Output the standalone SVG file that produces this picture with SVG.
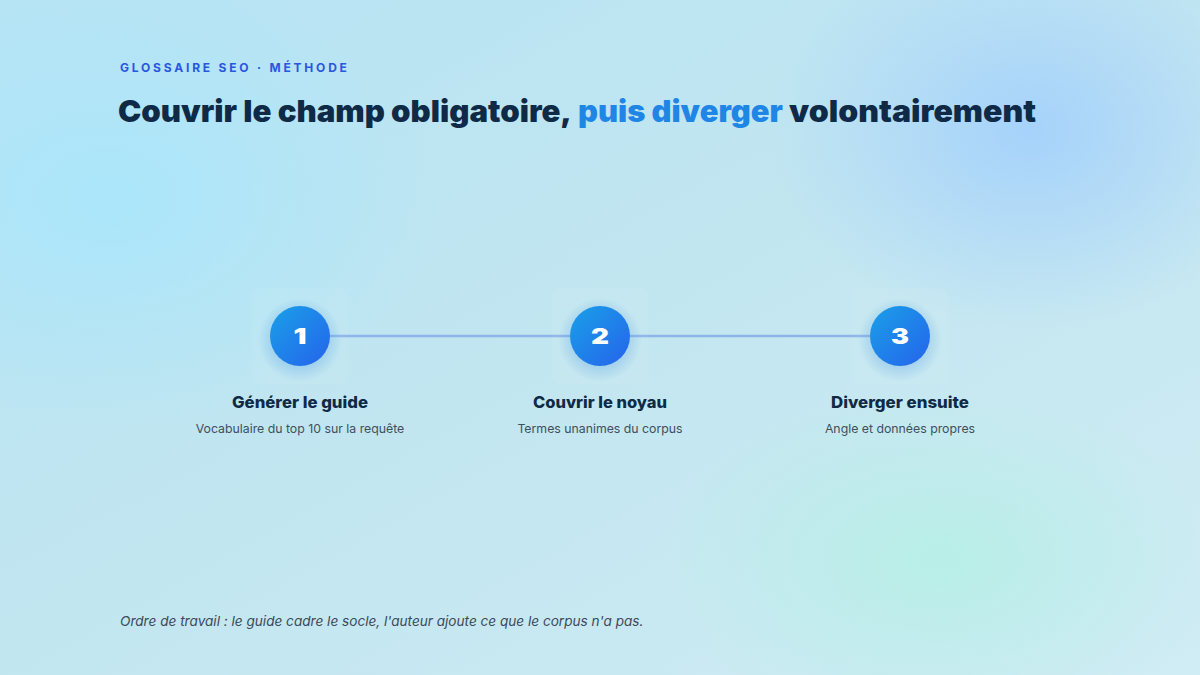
<svg xmlns="http://www.w3.org/2000/svg" width="1200" height="675" viewBox="0 0 1200 675">
  <defs>
    <linearGradient id="bg" x1="0" y1="0" x2="1" y2="1">
      <stop offset="0" stop-color="#b6e3f4"/>
      <stop offset="0.5" stop-color="#c2e6f0"/>
      <stop offset="1" stop-color="#d0ecf4"/>
    </linearGradient>
    <radialGradient id="blobCyan" cx="0.5" cy="0.5" r="0.5">
      <stop offset="0" stop-color="#a9e6fb" stop-opacity="0.9"/>
      <stop offset="1" stop-color="#a9e6fb" stop-opacity="0"/>
    </radialGradient>
    <radialGradient id="blobBlue" cx="0.5" cy="0.5" r="0.5">
      <stop offset="0" stop-color="#a6d2fb" stop-opacity="1"/>
      <stop offset="1" stop-color="#a6d2fb" stop-opacity="0"/>
    </radialGradient>
    <radialGradient id="blobMint" cx="0.5" cy="0.5" r="0.5">
      <stop offset="0" stop-color="#b6efe6" stop-opacity="0.9"/>
      <stop offset="1" stop-color="#b6efe6" stop-opacity="0"/>
    </radialGradient>
    <linearGradient id="dot" x1="0" y1="0" x2="1" y2="1">
      <stop offset="0" stop-color="#1aa0e8"/>
      <stop offset="1" stop-color="#2563eb"/>
    </linearGradient>
    <radialGradient id="glow" cx="0.5" cy="0.5" r="0.5">
      <stop offset="0.55" stop-color="#3b8fe0" stop-opacity="0.3"/>
      <stop offset="1" stop-color="#3b8fe0" stop-opacity="0"/>
    </radialGradient>
    <style>
      .eyebrow { font-family: Inter, "Liberation Sans", sans-serif; font-size: 12px; font-weight: 700; letter-spacing: 2.8px; fill: #2a56e0; }
      .title { font-family: Inter, "Liberation Sans", sans-serif; font-size: 30px; font-weight: 900; fill: #0e2a47; }
      .accent { fill: #1f86e6; }
      .num { font-family: Inter, "Liberation Sans", sans-serif; font-size: 22px; font-weight: 900; fill: #ffffff; text-anchor: middle; }
      .label { font-family: Inter, "Liberation Sans", sans-serif; font-size: 16px; font-weight: 800; fill: #0e2a47; text-anchor: middle; }
      .sub { font-family: Inter, "Liberation Sans", sans-serif; font-size: 12.3px; fill: #3f4f5e; text-anchor: middle; }
      .foot { font-family: Inter, "Liberation Sans", sans-serif; font-size: 13.6px; font-style: italic; fill: #3a4a5a; }
      .tile { fill: #ffffff; opacity: 0.05; }
    </style>
  </defs>

  <rect width="1200" height="675" fill="url(#bg)"/>
  <ellipse cx="110" cy="200" rx="330" ry="230" fill="url(#blobCyan)"/>
  <ellipse cx="1030" cy="130" rx="260" ry="200" fill="url(#blobBlue)"/>
  <ellipse cx="940" cy="560" rx="280" ry="170" fill="url(#blobMint)"/>

  <text class="eyebrow" x="120" y="72">GLOSSAIRE SEO · MÉTHODE</text>

  <g id="title">
    <text class="title" x="118" y="122" textLength="454" lengthAdjust="spacingAndGlyphs">Couvrir le champ obligatoire,</text>
    <text class="title accent" x="578" y="122" textLength="205" lengthAdjust="spacingAndGlyphs">puis diverger</text>
    <text class="title" x="789" y="122" textLength="247" lengthAdjust="spacingAndGlyphs">volontairement</text>
  </g>

  <g id="connectors">
    <line x1="330" y1="336" x2="570" y2="336" stroke="#8db5ea" stroke-width="2.5"/>
    <line x1="630" y1="336" x2="870" y2="336" stroke="#8db5ea" stroke-width="2.5"/>
  </g>

  <g id="step1">
    <rect class="tile" x="252" y="288" width="96" height="96" rx="6"/>
    <circle cx="300" cy="340" r="42" fill="url(#glow)"/>
    <circle cx="300" cy="336" r="30" fill="url(#dot)"/>
    <text class="num" x="300" y="344" textLength="13" lengthAdjust="spacingAndGlyphs">1</text>
    <text class="label" x="300" y="408" textLength="136" lengthAdjust="spacingAndGlyphs">Générer le guide</text>
    <text class="sub" x="300" y="433">Vocabulaire du top 10 sur la requête</text>
  </g>

  <g id="step2">
    <rect class="tile" x="552" y="288" width="96" height="96" rx="6"/>
    <circle cx="600" cy="340" r="42" fill="url(#glow)"/>
    <circle cx="600" cy="336" r="30" fill="url(#dot)"/>
    <text class="num" x="600" y="344" textLength="18" lengthAdjust="spacingAndGlyphs">2</text>
    <text class="label" x="600" y="408" textLength="134" lengthAdjust="spacingAndGlyphs">Couvrir le noyau</text>
    <text class="sub" x="600" y="433">Termes unanimes du corpus</text>
  </g>

  <g id="step3">
    <rect class="tile" x="852" y="288" width="96" height="96" rx="6"/>
    <circle cx="900" cy="340" r="42" fill="url(#glow)"/>
    <circle cx="900" cy="336" r="30" fill="url(#dot)"/>
    <text class="num" x="900" y="344" textLength="18" lengthAdjust="spacingAndGlyphs">3</text>
    <text class="label" x="900" y="408" textLength="138" lengthAdjust="spacingAndGlyphs">Diverger ensuite</text>
    <text class="sub" x="900" y="433">Angle et données propres</text>
  </g>

  <text class="foot" x="120" y="626">Ordre de travail : le guide cadre le socle, l'auteur ajoute ce que le corpus n'a pas.</text>
</svg>
